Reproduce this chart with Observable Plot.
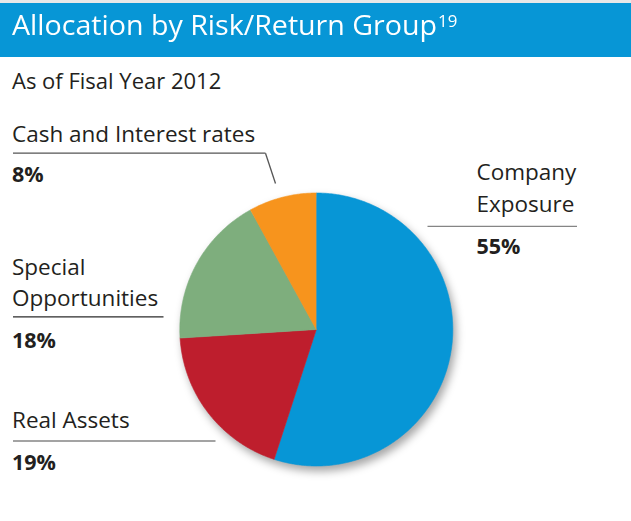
<!DOCTYPE html>
<html><head><meta charset="utf-8">
<script src="https://cdn.jsdelivr.net/npm/d3@7"></script>
<script src="https://cdn.jsdelivr.net/npm/@observablehq/plot@0.6"></script>
<style>
body{margin:0;background:#fff;width:631px;height:521px;overflow:hidden;font-family:"Open Sans",sans-serif;}
#top{height:3px;background:#e8e8e8}
#bar{height:54px;background:#0796d6;position:relative;overflow:hidden}
#title{position:absolute;left:12px;top:7px;color:#fff;font-size:28px;line-height:28px;white-space:nowrap;transform-origin:0 0}
#title sup{font-size:16.5px;vertical-align:0;position:relative;top:-8px;margin-left:1px}
#chart svg{display:block}
</style></head>
<body>
<div id="top"></div>
<div id="bar"><div id="title"><span id="tmain">Allocation by Risk/Return Group</span><sup>19</sup></div></div>
<div id="chart"></div>
<script>
// ---- data ----
const categories = ["Company Exposure", "Real Assets", "Special Opportunities", "Cash and Interest rates"];
const values = [55, 19, 18, 8];
const percentLabels = ["55%", "19%", "18%", "8%"];
const nameLines = [["Company", "Exposure"], ["Real Assets"], ["Special", "Opportunities"], ["Cash and Interest rates"]];
const colors = ["#0796d6", "#be1e2d", "#7eae7d", "#f7941d"];
const subtitle = "As of Fisal Year 2012";

// ---- layout (page pixel coordinates) ----
const W = 631, H = 521, TOP = 57;
const pie = {cx: 315.8, cy: 329, r: 136.5};
const nameAt = [[[476, 179], [476, 211]], [[11.5, 427.5]], [[11.5, 274], [11.5, 305]], [[11.5, 141.5]]];
const pctAt = [[476, 253.5], [11.5, 469.5], [11.5, 347], [11.5, 181.7]];
const leaders = [
  [[427, 225.8], [576.5, 225.8]],
  [[12.5, 440.5], [215, 440.5]],
  [[12.5, 316.3], [163, 316.3]],
  [[12.5, 152.7], [265, 152.7], [275, 183]]
];
const leaderColor = ["#858585", "#858585", "#2b2b2b", "#555555"];

// pie polygons from values
const total = d3.sum(values);
const piePts = [];
let acc = 0;
categories.forEach((c, i) => {
  const a0 = acc / total * 2 * Math.PI;
  acc += values[i];
  const a1 = acc / total * 2 * Math.PI;
  piePts.push({c, x: pie.cx, y: pie.cy});
  const n = Math.max(2, Math.ceil((a1 - a0) / (Math.PI / 360)));
  for (let k = 0; k <= n; k++) {
    const a = a0 + (a1 - a0) * k / n;
    piePts.push({c, x: pie.cx + pie.r * Math.sin(a), y: pie.cy - pie.r * Math.cos(a)});
  }
});

const names = [];
nameLines.forEach((ls, i) => ls.forEach((t, j) => names.push({t, x: nameAt[i][j][0], y: nameAt[i][j][1]})));
const pcts = percentLabels.map((t, i) => ({t, x: pctAt[i][0], y: pctAt[i][1]}));
const segs = [];
leaders.forEach((pts, i) => { for (let k = 0; k < pts.length - 1; k++) segs.push({x1: pts[k][0], y1: pts[k][1], x2: pts[k+1][0], y2: pts[k+1][1], s: leaderColor[i]}); });

const chart = Plot.plot({
  width: W, height: H - TOP,
  marginTop: 0, marginRight: 0, marginBottom: 0, marginLeft: 0,
  x: {domain: [0, W], range: [0, W], axis: null},
  y: {domain: [TOP, H], range: [0, H - TOP], axis: null},
  color: {domain: categories, range: colors},
  style: {fontFamily: "'Open Sans', sans-serif", background: "#fff", overflow: "visible"},
  marks: [
    Plot.line(piePts, {x: "x", y: "y", z: "c", fill: "c", stroke: "c", strokeWidth: 0.6, curve: "linear"}),
    Plot.link(segs, {x1: "x1", y1: "y1", x2: "x2", y2: "y2", stroke: d => d.s, strokeWidth: 1.3}),
    Plot.text([subtitle], {x: () => 11.5, y: () => 88.5, text: d => d, textAnchor: "start", lineAnchor: "bottom", fontSize: 22, fill: "#231f20"}),
    Plot.text(names, {x: "x", y: "y", text: "t", textAnchor: "start", lineAnchor: "bottom", fontSize: 22.5, fill: "#231f20"}),
    Plot.text(pcts, {x: "x", y: "y", text: "t", textAnchor: "start", lineAnchor: "bottom", fontSize: 21.5, fontWeight: "bold", fill: "#231f20"})
  ]
});
d3.select(chart).select('g[aria-label="line"]').style("filter", "drop-shadow(3px 5px 4px rgba(0,0,0,0.35))");
document.getElementById("chart").appendChild(chart);

// fit the title to the reference width
const tm = document.getElementById("tmain");
const w = tm.getBoundingClientRect().width;
document.getElementById("title").style.transform = `scaleX(${425 / w})`;
</script>
</body></html>
